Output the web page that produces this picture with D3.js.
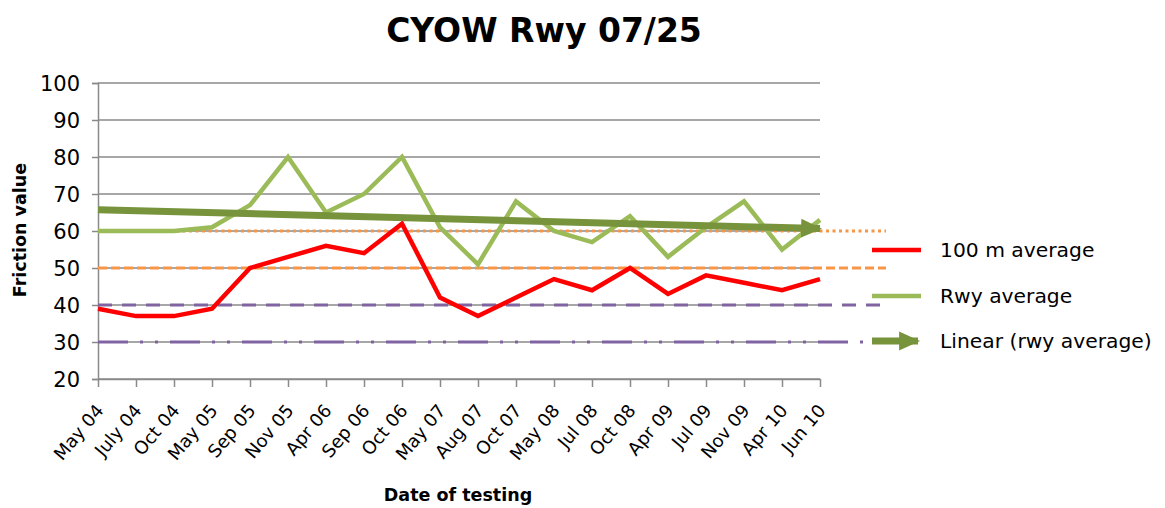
<!DOCTYPE html>
<html>
<head>
<meta charset="utf-8">
<script src="https://cdn.jsdelivr.net/npm/d3@7"></script>
<style>
  body { margin: 0; background: #fff; }
  text { font-family: "DejaVu Sans", sans-serif; fill: #000; }
</style>
</head>
<body>
<svg id="chart"></svg>
<script>
// test dates (x categories)
var dates = ["May 04","July 04","Oct 04","May 05","Sep 05","Nov 05","Apr 06","Sep 06","Oct 06",
             "May 07","Aug 07","Oct 07","May 08","Jul 08","Oct 08","Apr 09","Jul 09","Nov 09",
             "Apr 10","Jun 10"];
// 100 m average friction
var avg100 = [39,37,37,39,50,53,56,54,62,42,37,42,47,44,50,43,48,46,44,47];
// runway average friction
var rwyAvg = [60,60,60,61,67,80,65,70,80,61,51,68,60,57,64,53,61,68,55,63];
// horizontal reference levels
var refLevels = [60,50,40,30];
var yTicks = [20,30,40,50,60,70,80,90,100];
var legendNames = ["100 m average","Rwy average","Linear (rwy average)"];

var screen = {width:1165, height:508};
var plot = {left:98, right:820, top:83, bottom:379};

var svg = d3.select("#chart")
    .attr("width",screen.width)
    .attr("height",screen.height);

var xScale = d3.scalePoint()
    .domain(dates)
    .range([plot.left,plot.right]);

var yScale = d3.scaleLinear()
    .domain([20,100])
    .range([plot.bottom,plot.top]);

//gridlines
svg.append("g")
    .selectAll("line")
    .data(yTicks)
    .enter()
    .append("line")
    .attr("x1",plot.left)
    .attr("x2",plot.right)
    .attr("y1",function(d){ return yScale(d); })
    .attr("y2",function(d){ return yScale(d); })
    .attr("stroke","#8a8a8a")
    .attr("stroke-width",1.5);

//y axis
var yAxis = d3.axisLeft(yScale)
    .tickValues(yTicks)
    .tickSize(6)
    .tickPadding(12);
var yg = svg.append("g")
    .attr("transform","translate("+plot.left+",0)")
    .call(yAxis);
yg.select(".domain").attr("stroke","#8a8a8a").attr("stroke-width",1.5);
yg.selectAll(".tick line").attr("stroke","#8a8a8a").attr("stroke-width",1.5);
yg.selectAll(".tick text")
    .style("font-family","'DejaVu Sans', sans-serif")
    .style("font-size","21px")
    .attr("fill","#333")
    .attr("dy","0.36em");

//x axis
var xAxis = d3.axisBottom(xScale)
    .tickSize(8)
    .tickSizeOuter(0);
var xg = svg.append("g")
    .attr("transform","translate(0,"+plot.bottom+")")
    .call(xAxis);
xg.select(".domain").attr("stroke","#8a8a8a").attr("stroke-width",1.5);
xg.selectAll(".tick line").attr("stroke","#8a8a8a").attr("stroke-width",1.5);
xg.selectAll(".tick text")
    .style("font-family","'DejaVu Sans', sans-serif")
    .style("font-size","18px")
    .attr("fill","#333")
    .attr("text-anchor","end")
    .attr("y",0)
    .attr("dy","0")
    .attr("transform","translate(6,32) rotate(-50)");

//reference lines, they run past the plot into the legend area
var refStyles = [
    {color:"#f79646", dash:"3,3.5", width:3},
    {color:"#f79646", dash:"9,4", width:3},
    {color:"#8064a2", dash:"14,10", width:3},
    {color:"#8064a2", dash:"30,12,3,12,3,12", width:3}
];
svg.append("g")
    .selectAll("line")
    .data(refLevels)
    .enter()
    .append("line")
    .attr("x1",plot.left)
    .attr("x2",886)
    .attr("y1",function(d){ return yScale(d); })
    .attr("y2",function(d){ return yScale(d); })
    .attr("stroke",function(d,i){ return refStyles[i].color; })
    .attr("stroke-dasharray",function(d,i){ return refStyles[i].dash; })
    .attr("stroke-width",function(d,i){ return refStyles[i].width; });

var line = d3.line()
    .x(function(d,i){ return xScale(dates[i]); })
    .y(function(d){ return yScale(d); });

svg.append("path")
    .datum(rwyAvg)
    .attr("d",line)
    .attr("fill","none")
    .attr("stroke","#9bbb59")
    .attr("stroke-width",4.5);

svg.append("path")
    .datum(avg100)
    .attr("d",line)
    .attr("fill","none")
    .attr("stroke","#ff0000")
    .attr("stroke-width",4.5);

//linear trend of the runway average
var n = rwyAvg.length;
var mx = (n-1)/2;
var my = d3.mean(rwyAvg);
var sxy = d3.sum(rwyAvg,function(v,i){ return (i-mx)*(v-my); });
var sxx = d3.sum(rwyAvg,function(v,i){ return (i-mx)*(i-mx); });
var slope = sxy/sxx;
var trend = [my-slope*mx, my+slope*(n-1-mx)];

svg.append("defs").append("marker")
    .attr("id","arrow")
    .attr("markerUnits","userSpaceOnUse")
    .attr("viewBox","0 0 20 20")
    .attr("refX",18)
    .attr("refY",10)
    .attr("markerWidth",21)
    .attr("markerHeight",21)
    .attr("orient","auto")
    .append("path")
    .attr("d","M0,1 L20,10 L0,19 Z")
    .attr("fill","#77933c");

svg.append("line")
    .attr("x1",xScale(dates[0]))
    .attr("y1",yScale(trend[0]))
    .attr("x2",xScale(dates[n-1]))
    .attr("y2",yScale(trend[1]))
    .attr("stroke","#77933c")
    .attr("stroke-width",7)
    .attr("marker-end","url(#arrow)");

//legend
var legend = svg.append("g");
var legendY = [250,296,341];
legend.append("line")
    .attr("x1",872).attr("x2",921)
    .attr("y1",legendY[0]).attr("y2",legendY[0])
    .attr("stroke","#ff0000").attr("stroke-width",4.5);
legend.append("line")
    .attr("x1",872).attr("x2",921)
    .attr("y1",legendY[1]).attr("y2",legendY[1])
    .attr("stroke","#9bbb59").attr("stroke-width",4.5);
legend.append("line")
    .attr("x1",872).attr("x2",918)
    .attr("y1",legendY[2]).attr("y2",legendY[2])
    .attr("stroke","#77933c").attr("stroke-width",7)
    .attr("marker-end","url(#arrow)");
legend.selectAll("text")
    .data(legendNames)
    .enter()
    .append("text")
    .attr("x",940)
    .attr("y",function(d,i){ return legendY[i]; })
    .attr("dy","0.36em")
    .style("font-size","20.3px")
    .attr("fill","#222")
    .text(function(d){ return d; });

//titles
svg.append("text")
    .attr("x",544)
    .attr("y",42)
    .attr("text-anchor","middle")
    .style("font-size","33px")
    .style("font-weight","bold")
    .text("CYOW Rwy 07/25");

svg.append("text")
    .attr("transform","translate(26,230) rotate(-90)")
    .attr("text-anchor","middle")
    .style("font-size","17.5px")
    .style("font-weight","bold")
    .text("Friction value");

svg.append("text")
    .attr("x",458)
    .attr("y",501)
    .attr("text-anchor","middle")
    .style("font-size","17.5px")
    .style("font-weight","bold")
    .text("Date of testing");
</script>
</body>
</html>
